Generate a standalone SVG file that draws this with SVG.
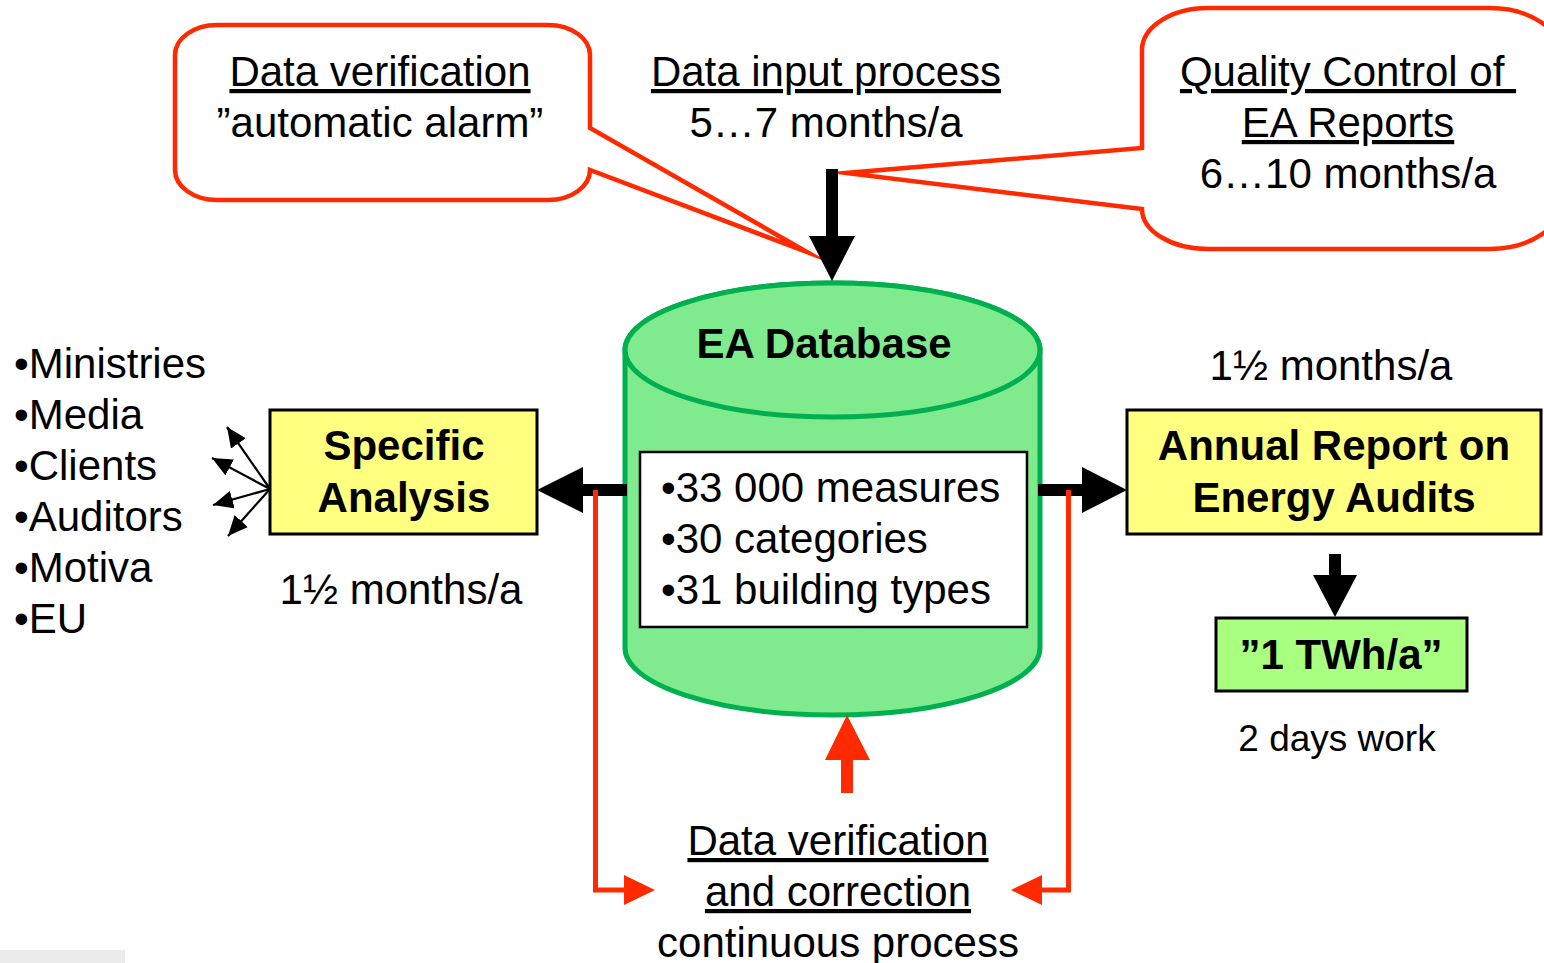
<svg xmlns="http://www.w3.org/2000/svg" width="1544" height="963" viewBox="0 0 1544 963">
<defs>
<style>
.t{font-family:"Liberation Sans",Arial,sans-serif;font-size:42px;fill:#000;}
.b{font-family:"Liberation Sans",Arial,sans-serif;font-size:42px;font-weight:bold;fill:#000;}
.u{text-decoration:underline;}
.c{text-anchor:middle;}
.callout{fill:#fff;stroke:#ff2a00;stroke-width:4.5;stroke-linejoin:miter;stroke-miterlimit:20;}
.ybox{fill:#ffff80;stroke:#000;stroke-width:3;}
.gbox{fill:#a8ff80;stroke:#000;stroke-width:3;}
.blk{fill:#000;}
.red{fill:#ff2a00;}
.redline{fill:none;stroke:#ff2a00;stroke-width:5;}
.fan{stroke:#000;stroke-width:2.2;fill:none;}
</style>
<marker id="fanhead" markerUnits="userSpaceOnUse" markerWidth="22" markerHeight="18" refX="20" refY="9" orient="auto">
<path d="M0,0 L20,9 L0,18 Z" fill="#000"/>
</marker>
</defs>
<rect x="0" y="0" width="1544" height="963" fill="#fff"/>
<rect x="0" y="950" width="125" height="13" fill="#ebebeb"/>

<g id="callout-verification">
<path class="callout" d="M217,25 H548 A42 30 0 0 1 590,55 V128 L807,252 L590,170 A42 30 0 0 1 548,200 H217 A42 30 0 0 1 175,170 V55 A42 30 0 0 1 217,25 Z"/>
<text class="t c u" x="380" y="86">Data verification</text>
<text class="t c" x="380" y="137">”automatic alarm”</text>
</g>

<g id="label-input">
<text class="t c u" x="826" y="86">Data input process</text>
<text class="t c" x="826" y="137">5…7 months/a</text>
</g>

<g id="callout-quality">
<path class="callout" d="M1208,8 H1490 A72 48 0 0 1 1562,56 V201 A72 48 0 0 1 1490,249 H1208 A66 40 0 0 1 1142,209 L846,173 L1142,148 V50 A66 42 0 0 1 1208,8 Z"/>
<text class="t c u" x="1348" y="86" style="white-space:pre">Quality Control of </text>
<text class="t c u" x="1348" y="137">EA Reports</text>
<text class="t c" x="1348" y="188">6…10 months/a</text>
</g>

<g id="database">
<path d="M625,350 A207.5 67 0 0 1 1040,350 V648 A207.5 67 0 0 1 625,648 Z" fill="#80ea8f" stroke="#00b04f" stroke-width="5"/>
<ellipse cx="832.5" cy="350" rx="207.5" ry="67" fill="#80ea8f" stroke="#00b04f" stroke-width="5"/>
<text class="b c" x="824" y="358">EA Database</text>
<rect x="640" y="452" width="387" height="175" fill="#fff" stroke="#000" stroke-width="2.5"/>
<text class="t" x="661" y="502">•33 000 measures</text>
<text class="t" x="661" y="553">•30 categories</text>
<text class="t" x="661" y="604">•31 building types</text>
</g>

<g id="audience">
<text class="t" x="14" y="378">•Ministries</text>
<text class="t" x="14" y="429">•Media</text>
<text class="t" x="14" y="480">•Clients</text>
<text class="t" x="14" y="531">•Auditors</text>
<text class="t" x="14" y="582">•Motiva</text>
<text class="t" x="14" y="633">•EU</text>
</g>

<g id="specific-analysis">
<rect class="ybox" x="270" y="410" width="267" height="124"/>
<text class="b c" x="404" y="460">Specific</text>
<text class="b c" x="404" y="512">Analysis</text>
<text class="t c" x="401" y="604">1½ months/a</text>
</g>

<g id="annual-report">
<text class="t c" x="1331" y="380">1½ months/a</text>
<rect class="ybox" x="1127" y="410" width="414" height="124"/>
<text class="b c" x="1334" y="460">Annual Report on</text>
<text class="b c" x="1334" y="512">Energy Audits</text>
</g>

<g id="twh">
<rect class="gbox" x="1216" y="618" width="251" height="73"/>
<text class="b c" x="1341" y="669">”1 TWh/a”</text>
<text class="t c" x="1337" y="751" style="font-size:37px">2 days work</text>
</g>

<g id="label-correction">
<text class="t c u" x="838" y="855">Data verification</text>
<text class="t c u" x="838" y="906">and correction</text>
<text class="t c" x="838" y="957">continuous process</text>
</g>

<g id="connectors">
<polygon class="blk" points="826,169 838,169 838,236 855,236 832,281 809,236 826,236"/>
<polygon class="blk" points="627,484 583,484 583,467 537,490 583,513 583,496 627,496"/>
<polygon class="blk" points="1038,484 1082,484 1082,467 1127,490 1082,513 1082,496 1038,496"/>
<polygon class="blk" points="1329,554 1341,554 1341,575 1357,575 1335,617 1313,575 1329,575"/>
<polyline class="redline" points="595.5,490 595.5,890 626,890"/>
<polygon class="red" points="624,875 655,890 624,905"/>
<polyline class="redline" points="1068.5,490 1068.5,890 1040,890"/>
<polygon class="red" points="1042,875 1011,890 1042,905"/>
<polygon class="red" points="841,793 853,793 853,760 870,760 847,715 825,760 841,760"/>
<line class="fan" x1="270" y1="489" x2="227" y2="427" marker-end="url(#fanhead)"/>
<line class="fan" x1="270" y1="489" x2="212" y2="458" marker-end="url(#fanhead)"/>
<line class="fan" x1="270" y1="489" x2="213" y2="505" marker-end="url(#fanhead)"/>
<line class="fan" x1="270" y1="489" x2="228" y2="536" marker-end="url(#fanhead)"/>
</g>
</svg>
